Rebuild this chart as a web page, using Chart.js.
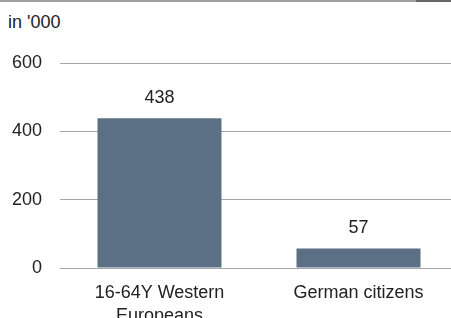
<!doctype html>
<html>
<head>
    <title>Population chart</title>
    <script src="https://cdn.jsdelivr.net/npm/chart.js"></script>
    <style>
        body {
            margin: 0;
            width: 451px;
            height: 318px;
            overflow: hidden;
            position: relative;
            font-family: "Liberation Sans", Arial, sans-serif;
            background: #fff;
        }

        #rule-left {
            position: absolute;
            left: 0;
            top: 0;
            width: 416px;
            height: 2px;
            background: #a0a0a0;
        }

        #rule-right {
            position: absolute;
            left: 416px;
            top: 0;
            width: 35px;
            height: 2px;
            background: #666;
        }

        #unit {
            position: absolute;
            left: 8px;
            top: 12px;
            font-size: 18px;
            line-height: normal;
            color: #222;
        }

        #wrap {
            position: absolute;
            left: 0;
            top: 0;
            width: 458px;
            height: 318px;
        }
    </style>
</head>
<body>
    <div id="rule-left"></div>
    <div id="rule-right"></div>
    <div id="unit">in '000</div>
    <div id="wrap"><canvas id="barChart"></canvas></div>

    <script>
        const categories = [['16-64Y Western', 'Europeans'], 'German citizens'];
        const values = [438, 57];
        const yTicks = [0, 200, 400, 600];

        const textColor = '#222';
        const barColor = '#5b7084';
        const fontFamily = '"Liberation Sans", Arial, sans-serif';

        // value labels above each bar
        const valueLabels = {
            id: 'valueLabels',
            afterDatasetsDraw(chart) {
                const ctx = chart.ctx;
                const meta = chart.getDatasetMeta(0);
                ctx.save();
                ctx.font = '18px ' + fontFamily;
                ctx.fillStyle = textColor;
                ctx.textAlign = 'center';
                ctx.textBaseline = 'middle';
                meta.data.forEach((bar, i) => {
                    ctx.fillText(String(values[i]), bar.x, bar.y - 20);
                });
                ctx.restore();
            }
        };

        new Chart(document.getElementById('barChart'), {
            type: 'bar',
            data: {
                labels: categories,
                datasets: [{
                    data: values,
                    backgroundColor: barColor,
                    borderWidth: 0,
                    categoryPercentage: 1,
                    barPercentage: 0.623
                }]
            },
            options: {
                responsive: true,
                maintainAspectRatio: false,
                animation: false,
                layout: { padding: { top: 63, left: 0, right: 0, bottom: 0 } },
                plugins: {
                    legend: { display: false },
                    tooltip: { enabled: false }
                },
                scales: {
                    x: {
                        grid: { display: false, drawTicks: false },
                        border: { display: false },
                        ticks: {
                            color: textColor,
                            padding: 14,
                            font: { family: fontFamily, size: 18, lineHeight: 1.27 },
                            maxRotation: 0,
                            autoSkip: false
                        },
                        afterFit(scale) { scale.height = 50; }
                    },
                    y: {
                        min: 0,
                        max: 600,
                        afterBuildTicks(scale) {
                            scale.ticks = yTicks.map(v => ({ value: v }));
                        },
                        grid: { color: '#a6a6a6', lineWidth: 1, drawTicks: false },
                        border: { display: false },
                        ticks: {
                            color: textColor,
                            padding: 18,
                            font: { family: fontFamily, size: 18 }
                        },
                        afterFit(scale) { scale.width = 60; }
                    }
                }
            },
            plugins: [valueLabels]
        });
    </script>
</body>
</html>
